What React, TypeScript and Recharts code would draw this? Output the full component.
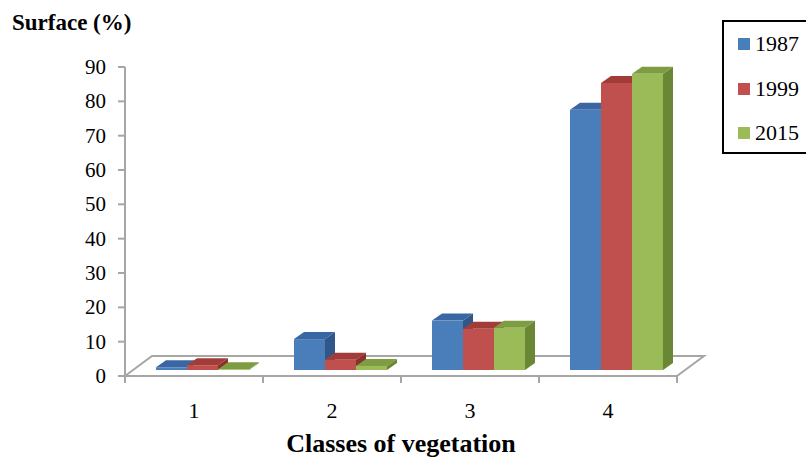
import React from "react";
import { BarChart, Bar, XAxis, YAxis, Customized } from "recharts";

const categories = ["1", "2", "3", "4"];
const series1987 = [0.8, 9.0, 14.4, 75.8];
const series1999 = [1.4, 3.0, 12.0, 83.6];
const series2015 = [0.2, 1.2, 12.3, 86.3];
const yTicks = [0, 10, 20, 30, 40, 50, 60, 70, 80, 90];

const data = categories.map((c, i) => ({
  name: c,
  y1987: series1987[i],
  y1999: series1999[i],
  y2015: series2015[i],
}));

const SERIES = [
  { key: "y1987", label: "1987", front: "#4a7ebb", top: "#3a67a3", side: "#2f5889" },
  { key: "y1999", label: "1999", front: "#c0504d", top: "#a13c39", side: "#8a302d" },
  { key: "y2015", label: "2015", front: "#9bbb59", top: "#7e9c42", side: "#6a8736" },
];

// layout
const W = 806;
const H = 462;
const PLOT_L = 125;
const PLOT_R = 677;
const PLOT_T = 67;
const PLOT_B = 376;
const Y_AXIS_W = 60;
const X_AXIS_H = 40;
const FLOOR_DX = 27;
const FLOOR_DY = -20;
const BAR_SHIFT_X = 8;
const BAR_SHIFT_Y = -6;
const BAR_DX = 10;
const BAR_DY = -7;
const AXIS_GREY = "#a6a6a6";
const FONT = "'Liberation Serif', 'Times New Roman', serif";

function make3DBar(c: { front: string; top: string; side: string }) {
  return (props: any) => {
    const { x, y, width, height } = props;
    const h = Math.max(height || 0, 0);
    const fx = x + BAR_SHIFT_X;
    const fy = y + BAR_SHIFT_Y;
    const top = `${fx},${fy} ${fx + BAR_DX},${fy + BAR_DY} ${fx + width + BAR_DX},${fy + BAR_DY} ${fx + width},${fy}`;
    const side = `${fx + width},${fy} ${fx + width + BAR_DX},${fy + BAR_DY} ${fx + width + BAR_DX},${fy + h + BAR_DY} ${fx + width},${fy + h}`;
    return (
      <g>
        <polygon points={side} fill={c.side} />
        <polygon points={top} fill={c.top} />
        <rect x={fx} y={fy} width={width} height={h} fill={c.front} />
      </g>
    );
  };
}

function Floor() {
  return (
    <g stroke={AXIS_GREY} strokeWidth={2} fill="none">
      <polyline
        points={`${PLOT_L},${PLOT_B} ${PLOT_L + FLOOR_DX},${PLOT_B + FLOOR_DY} ${PLOT_R + FLOOR_DX},${PLOT_B + FLOOR_DY} ${PLOT_R},${PLOT_B}`}
      />
    </g>
  );
}

function XTick(props: any) {
  const { x, payload, index } = props;
  const band = (PLOT_R - PLOT_L) / categories.length;
  const left = x - band / 2;
  return (
    <g>
      <line x1={left} y1={PLOT_B} x2={left} y2={PLOT_B + 7} stroke={AXIS_GREY} strokeWidth={2} />
      {index === categories.length - 1 && (
        <line x1={x + band / 2} y1={PLOT_B} x2={x + band / 2} y2={PLOT_B + 7} stroke={AXIS_GREY} strokeWidth={2} />
      )}
      <text x={x} y={PLOT_B + 42} textAnchor="middle" style={{ fontFamily: FONT, fontSize: 22 }} fill="#000">
        {payload.value}
      </text>
    </g>
  );
}

function YTick(props: any) {
  const { x, y, payload } = props;
  return (
    <text x={x} y={y + 7} textAnchor="end" style={{ fontFamily: FONT, fontSize: 21 }} fill="#000">
      {payload.value}
    </text>
  );
}

function LegendBox() {
  return (
    <div
      style={{
        position: "absolute",
        left: 722,
        top: 20,
        width: 100,
        height: 134,
        border: "2px solid #000",
        boxSizing: "border-box",
        background: "#fff",
        fontFamily: FONT,
        fontSize: 22,
        color: "#000",
      }}
    >
      {SERIES.map((s, i) => (
        <div
          key={s.key}
          style={{
            position: "absolute",
            left: 14,
            top: 9 + i * 44.5,
            display: "flex",
            alignItems: "center",
            height: 26,
            lineHeight: "26px",
          }}
        >
          <div style={{ width: 12, height: 12, background: s.front, marginRight: 5 }} />
          <span>{s.label}</span>
        </div>
      ))}
    </div>
  );
}

export default function App() {
  return (
    <div
      style={{
        position: "absolute",
        left: 0,
        top: 0,
        width: W,
        height: H,
        overflow: "hidden",
        background: "#fff",
        fontFamily: FONT,
      }}
    >
      <BarChart
        width={W}
        height={H}
        data={data}
        margin={{
          top: PLOT_T,
          right: W - PLOT_R,
          bottom: H - PLOT_B - X_AXIS_H,
          left: PLOT_L - Y_AXIS_W,
        }}
        barGap={0}
        barSize={31}
      >
        <Customized component={Floor} />
        <XAxis
          dataKey="name"
          height={X_AXIS_H}
          axisLine={{ stroke: AXIS_GREY, strokeWidth: 2 }}
          tickLine={false}
          tick={<XTick />}
          interval={0}
          label={{
            content: () => (
              <text
                x={(PLOT_L + PLOT_R) / 2}
                y={452}
                textAnchor="middle"
                style={{ fontFamily: FONT, fontWeight: "bold", fontSize: 26 }}
                fill="#000"
              >
                Classes of vegetation
              </text>
            ),
          }}
        />
        <YAxis
          width={Y_AXIS_W}
          domain={[0, 90]}
          ticks={yTicks}
          interval={0}
          axisLine={{ stroke: AXIS_GREY, strokeWidth: 2 }}
          tickLine={{ stroke: AXIS_GREY, strokeWidth: 2 }}
          tickSize={7}
          tickMargin={12}
          tick={<YTick />}
          label={{
            content: () => (
              <text x={12} y={30} style={{ fontFamily: FONT, fontWeight: "bold", fontSize: 23 }} fill="#000">
                Surface (%)
              </text>
            ),
          }}
        />
        {SERIES.map((s) => (
          <Bar
            key={s.key}
            dataKey={s.key}
            name={s.label}
            fill={s.front}
            shape={make3DBar(s)}
            isAnimationActive={false}
          />
        ))}
      </BarChart>
      <LegendBox />
    </div>
  );
}
